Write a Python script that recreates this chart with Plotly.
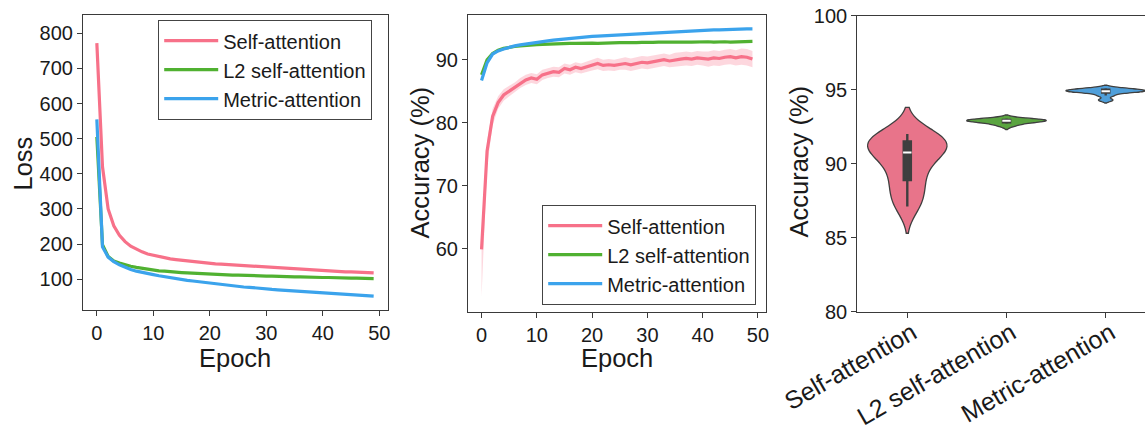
import numpy as np
import plotly.graph_objects as go

W, H = 1145, 431

# ---------------- data ----------------
epochs = list(range(50))
series_names = ["Self-attention", "L2 self-attention", "Metric-attention"]
colors = ["#f77189", "#50b131", "#3ba3ec"]
violin_colors = ["#e8748a", "#5aa440", "#4f9fda"]

loss_self = [772, 420, 300, 252, 225, 207, 194, 185, 178, 172,
             168, 164, 161, 158, 156, 154, 152, 150, 148, 147,
             145, 144, 143, 142, 141, 140, 139, 137, 136, 134,
             133, 132, 131, 130, 129, 128, 128, 127, 126, 125,
             124, 124, 123, 122, 121, 121, 120, 119, 119, 118]
loss_l2 = [505, 198, 165, 152, 146, 141, 137, 134, 131, 128,
           126, 124, 123, 121, 120, 119, 118, 117, 116, 115,
           115, 114, 113, 113, 112, 112, 111, 111, 110, 110,
           109, 109, 108, 108, 107, 107, 107, 106, 106, 106,
           105, 105, 104, 104, 104, 103, 103, 103, 102, 102]
loss_metric = [555, 192, 163, 150, 141, 134, 128, 123, 119, 116,
               113, 110, 107, 105, 102, 100, 97, 95, 93, 90,
               88, 86, 85, 83, 81, 80, 78, 77, 75, 74,
               72, 71, 70, 69, 67, 66, 65, 64, 63, 61,
               60, 59, 58, 57, 56, 55, 54, 53, 53, 52]

acc_self = [59.9, 75.5, 81.0, 83.2, 84.4, 85.0, 85.6, 86.3, 86.8, 87.1,
            86.9, 87.6, 87.9, 88.1, 88.0, 88.6, 88.4, 88.8, 88.6, 88.9,
            89.2, 89.4, 89.1, 89.2, 89.1, 89.3, 89.4, 89.2, 89.4, 89.6,
            89.5, 89.7, 89.8, 90.0, 89.8, 90.0, 90.1, 90.2, 90.1, 90.3,
            90.2, 90.1, 90.3, 90.2, 90.4, 90.5, 90.3, 90.5, 90.4, 90.1]
acc_self_ci_up = [2.0, 1.6, 1.2, 1.0, 0.9, 0.8, 0.8, 0.8, 0.8, 0.8,
                  0.8, 0.8, 0.8, 0.8, 0.8, 0.8, 0.8, 0.8, 0.8, 0.8,
                  0.9, 0.9, 0.9, 0.9, 0.9, 0.9, 1.0, 1.0, 1.0, 1.0,
                  1.0, 1.0, 1.0, 1.0, 1.0, 1.1, 1.1, 1.1, 1.1, 1.1,
                  1.1, 1.2, 1.2, 1.2, 1.2, 1.2, 1.2, 1.3, 1.3, 1.3]
acc_self_ci_down = [7.5, 2.5, 1.4, 1.0, 0.9, 0.8, 0.8, 0.8, 0.8, 0.8,
                    0.8, 0.8, 0.8, 0.8, 0.8, 0.8, 0.8, 0.8, 0.8, 0.8,
                    0.9, 0.9, 0.9, 0.9, 0.9, 0.9, 1.0, 1.0, 1.0, 1.0,
                    1.0, 1.0, 1.0, 1.0, 1.0, 1.1, 1.1, 1.1, 1.1, 1.1,
                    1.1, 1.2, 1.2, 1.2, 1.2, 1.2, 1.2, 1.3, 1.3, 1.3]
acc_l2 = [87.6, 90.0, 91.0, 91.5, 91.8, 92.0, 92.1, 92.2, 92.3, 92.35,
          92.4, 92.45, 92.5, 92.5, 92.55, 92.6, 92.6, 92.6, 92.65, 92.6,
          92.65, 92.6, 92.65, 92.7, 92.65, 92.7, 92.7, 92.65, 92.7, 92.75,
          92.7, 92.75, 92.8, 92.75, 92.8, 92.8, 92.75, 92.8, 92.8, 92.85,
          92.8, 92.85, 92.8, 92.85, 92.85, 92.8, 92.85, 92.9, 92.85, 92.9]
acc_metric = [86.7, 89.5, 90.9, 91.4, 91.7, 92.0, 92.2, 92.35, 92.5, 92.65,
              92.8, 92.9, 93.0, 93.1, 93.2, 93.3, 93.35, 93.45, 93.5, 93.6,
              93.7, 93.75, 93.8, 93.85, 93.95, 94.0, 94.05, 94.1, 94.15, 94.2,
              94.25, 94.3, 94.35, 94.4, 94.4, 94.45, 94.5, 94.55, 94.6, 94.65,
              94.7, 94.7, 94.75, 94.75, 94.8, 94.85, 94.85, 94.9, 94.9, 94.9]

final_self = [87.1, 88.0, 88.9, 89.8, 90.6, 90.9, 91.3, 91.5, 91.7, 92.0]
final_l2 = [92.55, 92.7, 92.8, 92.85, 92.9, 92.9, 92.95, 92.95, 93.0, 93.05]
final_metric = [94.3, 94.6, 94.8, 94.85, 94.9, 94.9, 94.95, 95.0, 95.05, 95.1]
violin_bw = [0.9, 0.12, 0.1]

loss_ticks = [100, 200, 300, 400, 500, 600, 700, 800]
acc_ticks = [60, 70, 80, 90]
violin_ticks = [80, 85, 90, 95, 100]
epoch_ticks = [0, 10, 20, 30, 40, 50]

# ---------------- figure ----------------
FONT = "Liberation Sans, Arial, sans-serif"
TXT = "#1a1a1a"
AX = "#3a3a3a"


def fx(p):
    return p / W


def fy(p):
    return 1 - p / H


fig = go.Figure()

loss_series = [loss_self, loss_l2, loss_metric]
for name, col, ys in zip(series_names, colors, loss_series):
    fig.add_trace(go.Scatter(x=epochs, y=ys, mode="lines", name=name,
                             line=dict(color=col, width=3.2),
                             xaxis="x", yaxis="y", legend="legend"))

# confidence band for self-attention accuracy
mean = np.array(acc_self)
lo = mean - np.array(acc_self_ci_down)
hi = mean + np.array(acc_self_ci_up)
fig.add_trace(go.Scatter(x=epochs, y=lo, mode="lines", line=dict(width=0),
                         showlegend=False, hoverinfo="skip",
                         xaxis="x2", yaxis="y2", legend="legend2"))
fig.add_trace(go.Scatter(x=epochs, y=hi, mode="lines", line=dict(width=0),
                         fill="tonexty", fillcolor="rgba(247,113,137,0.28)",
                         showlegend=False, hoverinfo="skip",
                         xaxis="x2", yaxis="y2", legend="legend2"))

acc_series = [acc_self, acc_l2, acc_metric]
for name, col, ys in zip(series_names, colors, acc_series):
    fig.add_trace(go.Scatter(x=epochs, y=ys, mode="lines", name=name,
                             line=dict(color=col, width=3.2),
                             xaxis="x2", yaxis="y2", legend="legend2"))

finals = [final_self, final_l2, final_metric]
for name, col, vals, bw in zip(series_names, violin_colors, finals, violin_bw):
    fig.add_trace(go.Violin(x=[name] * len(vals), y=vals, name=name,
                            fillcolor=col, line=dict(color="#3f3f3f", width=1.3),
                            width=0.8, bandwidth=bw, spanmode="soft",
                            points=False, opacity=1,
                            box=dict(visible=True, width=0.09, fillcolor="#3f3f3f",
                                     line=dict(color="#3f3f3f", width=2.4)),
                            showlegend=False, hoverinfo="skip",
                            xaxis="x3", yaxis="y3"))
fig.add_trace(go.Scatter(x=series_names, y=[float(np.median(v)) for v in finals],
                         mode="markers",
                         marker=dict(symbol="line-ew", size=6,
                                     line=dict(color="white", width=2)),
                         showlegend=False, hoverinfo="skip",
                         xaxis="x3", yaxis="y3"))

axis_common = dict(showline=True, linecolor=AX, linewidth=1.2, mirror=True,
                   ticks="outside", ticklen=5, tickwidth=1.2, tickcolor=AX,
                   showgrid=False, zeroline=False, automargin=False,
                   tickfont=dict(family=FONT, size=20, color=TXT))

legend_common = dict(xanchor="left", yanchor="top", traceorder="normal",
                     bordercolor="#444", borderwidth=1.2, bgcolor="white",
                     itemwidth=54,
                     font=dict(family=FONT, size=20, color=TXT))

fig.update_layout(
    width=W, height=H,
    margin=dict(l=0, r=0, t=0, b=0),
    paper_bgcolor="white", plot_bgcolor="white",
    font=dict(family=FONT, color=TXT),
    xaxis=dict(domain=[fx(83), fx(387.5)], range=[-2.45, 51.45],
               tickvals=epoch_ticks, anchor="y", **axis_common),
    yaxis=dict(domain=[fy(310), fy(15)], range=[12.5, 852],
               tickvals=loss_ticks, anchor="x", **axis_common),
    xaxis2=dict(domain=[fx(468), fx(766)], range=[-2.45, 51.45],
                tickvals=epoch_ticks, anchor="y2", **axis_common),
    yaxis2=dict(domain=[fy(311.7), fy(15)], range=[50.0, 97.1],
                tickvals=acc_ticks, anchor="x2", **axis_common),
    xaxis3=dict(domain=[fx(857.3), 1.0], range=[-0.504, 2.396],
                type="category", anchor="y3", tickangle=-30,
                ticklabelstandoff=-9, ticklabelshift=5,
                **{**axis_common, "tickfont": dict(family=FONT, size=25, color=TXT)}),
    yaxis3=dict(domain=[fy(311.7), fy(15.7)], range=[80, 100],
                tickvals=violin_ticks, anchor="x3",
                **{**axis_common, "mirror": False}),
    legend=dict(x=fx(158), y=fy(20), **legend_common),
    legend2=dict(x=fx(542), y=fy(205), **legend_common),
    showlegend=True,
)

title_font = dict(family=FONT, size=25.5, color=TXT)
annots = [
    dict(text="Loss", x=fx(22.5), y=fy(164), textangle=-90),
    dict(text="Epoch", x=fx(235), y=fy(358), textangle=0),
    dict(text="Accuracy (%)", x=fx(419), y=fy(162.5), textangle=-90),
    dict(text="Epoch", x=fx(616.7), y=fy(358), textangle=0),
    dict(text="Accuracy (%)", x=fx(798), y=fy(161.5), textangle=-90),
]
for a in annots:
    fig.add_annotation(xref="paper", yref="paper", showarrow=False,
                       xanchor="center", yanchor="middle", font=title_font, **a)

fig.write_html("out.html")
